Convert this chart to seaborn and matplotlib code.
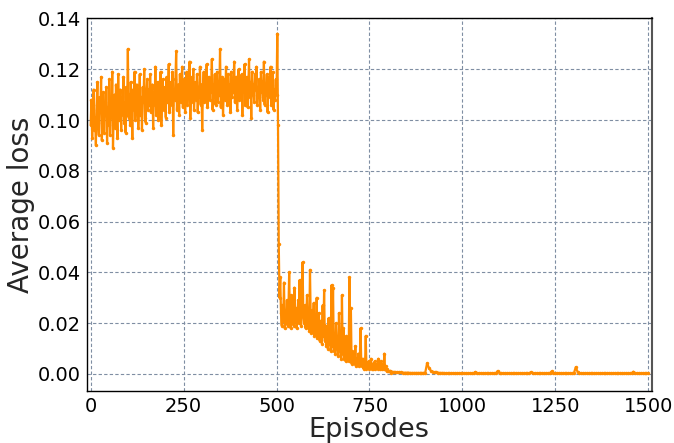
import numpy as np
import pandas as pd
import seaborn as sns
import matplotlib
matplotlib.use("Agg")
import matplotlib.pyplot as plt

# Episode indices for the three training phases
episodes_phase1 = np.arange(0, 500, 2)      # exploration phase
episodes_switch = np.array([500, 502, 504, 506, 508])
episodes_phase2 = np.arange(510, 810, 2)    # decay phase
episodes_phase3 = np.arange(810, 1501, 5)   # converged phase

loss_phase1 = [
    0.098, 0.108, 0.093, 0.104, 0.112, 0.096, 0.101, 0.090, 0.106, 0.115,
    0.099, 0.094, 0.109, 0.103, 0.117, 0.092, 0.100, 0.111, 0.095, 0.107,
    0.102, 0.113, 0.091, 0.105, 0.098, 0.116, 0.094, 0.108, 0.101, 0.119,
    0.089, 0.104, 0.110, 0.097, 0.114, 0.103, 0.093, 0.118, 0.100, 0.106,
    0.112, 0.096, 0.109, 0.102, 0.117, 0.099, 0.107, 0.095, 0.113, 0.104,
    0.128, 0.101, 0.110, 0.098, 0.115, 0.106, 0.093, 0.112, 0.104, 0.119,
    0.100, 0.108, 0.114, 0.111, 0.097, 0.105, 0.118, 0.102, 0.109, 0.096,
    0.113, 0.107, 0.120, 0.101, 0.099, 0.110, 0.116, 0.104, 0.112, 0.106,
    0.118, 0.103, 0.109, 0.114, 0.097, 0.111, 0.106, 0.121, 0.102, 0.108,
    0.115, 0.100, 0.105, 0.112, 0.119, 0.098, 0.110, 0.116, 0.104, 0.109,
    0.113, 0.101, 0.117, 0.107, 0.111, 0.122, 0.103, 0.109, 0.115, 0.106,
    0.119, 0.094, 0.112, 0.108, 0.116, 0.127, 0.104, 0.110, 0.114, 0.102,
    0.118, 0.107, 0.113, 0.121, 0.105, 0.111, 0.116, 0.103, 0.109, 0.119,
    0.106, 0.114, 0.110, 0.123, 0.101, 0.112, 0.117, 0.107, 0.120, 0.104,
    0.111, 0.115, 0.108, 0.118, 0.103, 0.113, 0.109, 0.121, 0.106, 0.114,
    0.096, 0.112, 0.119, 0.107, 0.115, 0.110, 0.122, 0.105, 0.113, 0.117,
    0.108, 0.116, 0.111, 0.124, 0.104, 0.114, 0.109, 0.118, 0.106, 0.112,
    0.119, 0.107, 0.115, 0.110, 0.128, 0.105, 0.113, 0.117, 0.102, 0.111,
    0.116, 0.108, 0.121, 0.112, 0.106, 0.118, 0.110, 0.114, 0.103, 0.119,
    0.109, 0.115, 0.111, 0.123, 0.107, 0.113, 0.117, 0.104, 0.112, 0.120,
    0.108, 0.114, 0.110, 0.118, 0.102, 0.116, 0.111, 0.122, 0.106, 0.113,
    0.117, 0.105, 0.112, 0.124, 0.109, 0.115, 0.101, 0.119, 0.110, 0.114,
    0.107, 0.118, 0.112, 0.121, 0.106, 0.113, 0.109, 0.116, 0.104, 0.119,
    0.111, 0.115, 0.108, 0.123, 0.106, 0.114, 0.110, 0.118, 0.103, 0.112,
    0.117, 0.109, 0.121, 0.106, 0.114, 0.119, 0.104, 0.112, 0.108, 0.116,
]

loss_switch = [0.110, 0.134, 0.098, 0.051, 0.030]

loss_phase2 = [
    0.038, 0.024, 0.019, 0.027, 0.021, 0.036, 0.018, 0.023, 0.020, 0.029,
    0.019, 0.025, 0.040, 0.022, 0.018, 0.031, 0.020, 0.024, 0.019, 0.034,
    0.021, 0.026, 0.018, 0.023, 0.029, 0.020, 0.037, 0.022, 0.019, 0.025,
    0.044, 0.024, 0.020, 0.027, 0.018, 0.022, 0.031, 0.019, 0.023, 0.017,
    0.041, 0.021, 0.016, 0.025, 0.019, 0.028, 0.015, 0.020, 0.017, 0.030,
    0.014, 0.018, 0.024, 0.013, 0.016, 0.021, 0.012, 0.027, 0.015, 0.033,
    0.013, 0.019, 0.011, 0.016, 0.010, 0.022, 0.012, 0.015, 0.009, 0.035,
    0.011, 0.034, 0.009, 0.014, 0.008, 0.020, 0.010, 0.013, 0.007, 0.024,
    0.009, 0.012, 0.006, 0.031, 0.008, 0.018, 0.006, 0.010, 0.005, 0.015,
    0.007, 0.012, 0.005, 0.038, 0.006, 0.026, 0.004, 0.009, 0.005, 0.007,
    0.004, 0.011, 0.003, 0.006, 0.004, 0.008, 0.003, 0.005, 0.018, 0.004,
    0.003, 0.006, 0.002, 0.004, 0.003, 0.015, 0.002, 0.004, 0.003, 0.005,
    0.002, 0.003, 0.006, 0.002, 0.004, 0.002, 0.003, 0.005, 0.002, 0.003,
    0.004, 0.002, 0.006, 0.003, 0.002, 0.005, 0.003, 0.002, 0.004, 0.002,
    0.008, 0.002, 0.003, 0.001, 0.002, 0.001, 0.001, 0.001, 0.001, 0.0005,
]

loss_phase3 = [
    0.0009, 0.0008, 0.0007, 0.0007, 0.0006, 0.0006, 0.0005, 0.0005, 0.0005, 0.0005,
    0.0004, 0.0004, 0.0004, 0.0004, 0.0004, 0.0004, 0.0004, 0.0004, 0.0005, 0.0042,
    0.0024, 0.0013, 0.0009, 0.0007, 0.0006, 0.0005, 0.0004, 0.0004, 0.0004, 0.0003,
    0.0003, 0.0003, 0.0003, 0.0003, 0.0003, 0.0003, 0.0003, 0.0003, 0.0003, 0.0003,
    0.0003, 0.0003, 0.0003, 0.0003, 0.0003, 0.0008, 0.0003, 0.0003, 0.0003, 0.0003,
    0.0003, 0.0003, 0.0003, 0.0003, 0.0003, 0.0003, 0.0003, 0.0012, 0.0003, 0.0003,
    0.0003, 0.0003, 0.0003, 0.0003, 0.0003, 0.0003, 0.0003, 0.0003, 0.0003, 0.0003,
    0.0003, 0.0003, 0.0003, 0.0003, 0.0003, 0.0007, 0.0003, 0.0003, 0.0003, 0.0003,
    0.0003, 0.0003, 0.0003, 0.0003, 0.0003, 0.0003, 0.0010, 0.0003, 0.0003, 0.0003,
    0.0003, 0.0003, 0.0003, 0.0003, 0.0003, 0.0003, 0.0003, 0.0003, 0.0003, 0.0027,
    0.0008, 0.0003, 0.0003, 0.0003, 0.0003, 0.0003, 0.0003, 0.0003, 0.0003, 0.0003,
    0.0003, 0.0003, 0.0003, 0.0003, 0.0003, 0.0003, 0.0003, 0.0003, 0.0003, 0.0003,
    0.0003, 0.0003, 0.0003, 0.0003, 0.0003, 0.0003, 0.0003, 0.0003, 0.0003, 0.0003,
    0.0009, 0.0003, 0.0003, 0.0003, 0.0003, 0.0003, 0.0003, 0.0003, 0.0003,
]

x_ticks = [0, 250, 500, 750, 1000, 1250, 1500]
y_ticks = [0.00, 0.02, 0.04, 0.06, 0.08, 0.10, 0.12, 0.14]

df = pd.DataFrame({
    "Episodes": np.concatenate([episodes_phase1, episodes_switch,
                                episodes_phase2, episodes_phase3]),
    "Average loss": np.concatenate([loss_phase1, loss_switch,
                                    loss_phase2, loss_phase3]),
})

sns.set_style("white")
plt.rcParams["font.family"] = ["DejaVu Sans"]

fig = plt.figure(figsize=(6.74, 4.43), dpi=100)
ax = fig.add_axes([0.1286, 0.1174, 0.967 - 0.1286, 0.960 - 0.1174])

sns.lineplot(data=df, x="Episodes", y="Average loss", ax=ax,
             color="#ff8c00", linewidth=1.6, marker="o", markersize=2.5,
             markeredgewidth=0, estimator=None)

ax.set_xlim(-10.8, 1509.5)
ax.set_ylim(-0.0067, 0.1403)
ax.set_xticks(x_ticks)
ax.set_yticks(y_ticks)
ax.set_yticklabels([f"{v:.2f}" for v in y_ticks])
ax.tick_params(axis="both", labelsize=14, length=0, pad=4, colors="black")

ax.grid(True, linestyle=(0, (3, 2)), color="#7f8ea3", linewidth=0.8)
ax.set_axisbelow(True)

for side in ["left", "bottom", "top"]:
    ax.spines[side].set_color("black")
    ax.spines[side].set_linewidth(1.0)
ax.spines["right"].set_color("#555555")
ax.spines["right"].set_linewidth(1.5)

ax.set_xlabel("Episodes", fontsize=19.5, labelpad=1)
ax.set_ylabel("Average loss", fontsize=20, labelpad=2)

fig.savefig("out.png", dpi=100)
